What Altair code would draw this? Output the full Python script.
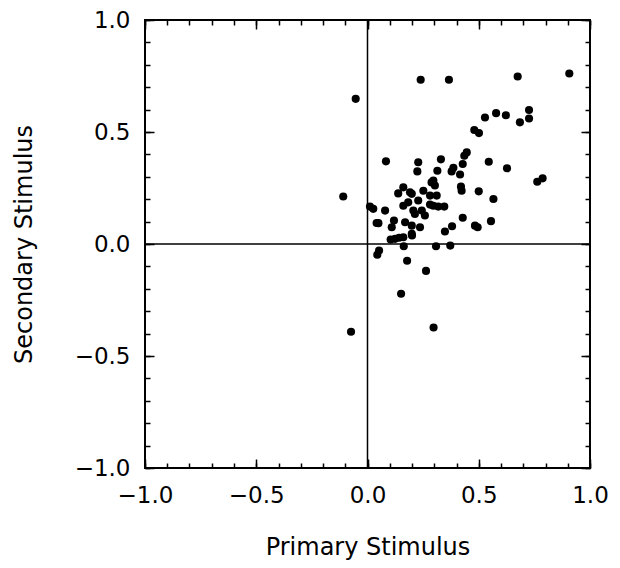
import altair as alt
import pandas as pd

# Data
primary = [-0.053, -0.109, -0.074, 0.297, 0.151, 0.263, 0.178, 0.052, 0.044, 0.163,
           0.308, 0.372, 0.104, 0.142, 0.200, 0.348, 0.239, 0.366, 0.675, 0.907,
           0.528, 0.578, 0.622, 0.685, 0.726, 0.726, 0.480, 0.501, 0.545, 0.627,
           0.763, 0.787, 0.500, 0.566, 0.555, 0.483, 0.495, 0.428, 0.380, 0.446,
           0.435, 0.428, 0.386, 0.378, 0.416, 0.420, 0.423, 0.330, 0.314, 0.296,
           0.303, 0.311, 0.281, 0.318, 0.345, 0.083, 0.228, 0.224, 0.161, 0.138,
           0.199, 0.251, 0.288, 0.011, 0.026, 0.079, 0.041, 0.119, 0.109, 0.161,
           0.183, 0.228, 0.206, 0.244, 0.169, 0.199, 0.236, 0.199, 0.124, 0.161,
           0.296, 0.281, 0.191, 0.213, 0.258, 0.049]
secondary = [0.648, 0.212, -0.392, -0.373, -0.222, -0.120, -0.075, -0.029, -0.048, -0.010,
             -0.010, -0.007, 0.020, 0.028, 0.038, 0.056, 0.733, 0.733, 0.748, 0.761,
             0.565, 0.584, 0.575, 0.543, 0.598, 0.560, 0.509, 0.495, 0.367, 0.338,
             0.278, 0.293, 0.235, 0.201, 0.102, 0.082, 0.075, 0.117, 0.079, 0.409,
             0.394, 0.357, 0.340, 0.324, 0.310, 0.256, 0.238, 0.378, 0.327, 0.283,
             0.261, 0.216, 0.176, 0.167, 0.167, 0.369, 0.365, 0.324, 0.253, 0.226,
             0.224, 0.238, 0.275, 0.167, 0.157, 0.149, 0.094, 0.105, 0.075, 0.171,
             0.186, 0.194, 0.149, 0.149, 0.097, 0.082, 0.075, 0.045, 0.023, 0.030,
             0.171, 0.216, 0.231, 0.134, 0.127, 0.093]

major_ticks = [-1.0, -0.5, 0.0, 0.5, 1.0]
minor_ticks = [round(-1 + 0.1 * i, 1) for i in range(21)]
zero_line = [0.0]

FONT = "DejaVu Sans"
W, H = 445, 448

df = pd.DataFrame({"primary": primary, "secondary": secondary})
zdf = pd.DataFrame({"v": zero_line})

sx = alt.Scale(domain=[-1, 1], nice=False, zero=False)
sy = alt.Scale(domain=[-1, 1], nice=False, zero=False)

base = alt.Chart(df)


def tick_axis(orient, values, size):
    return alt.Axis(orient=orient, values=values, tickSize=size, offset=-size,
                    labels=False, domain=False, grid=False, title=None,
                    tickColor="black", tickWidth=1.5)


def tick_layer(xo, yo, values, size):
    return base.mark_point(opacity=0).encode(
        x=alt.X("primary:Q", scale=sx, axis=tick_axis(xo, values, size)),
        y=alt.Y("secondary:Q", scale=sy, axis=tick_axis(yo, values, size)),
    )


hrule = alt.Chart(zdf).mark_rule(color="black", strokeWidth=1.5).encode(
    y=alt.Y("v:Q", scale=sy, axis=None))
vrule = alt.Chart(zdf).mark_rule(color="black", strokeWidth=1.5).encode(
    x=alt.X("v:Q", scale=sx, axis=None))

points = base.mark_circle(size=66, color="black", opacity=1).encode(
    x=alt.X("primary:Q", scale=sx, axis=alt.Axis(
        orient="bottom", values=major_ticks, format=".1f", ticks=False, tickSize=0,
        domain=False, grid=False, labelPadding=16, labelFontSize=23, labelFont=FONT,
        labelColor="black", labelFlush=False, labelOverlap=False,
        title="Primary Stimulus", titleFont=FONT, titleFontSize=24,
        titleFontWeight="normal", titleColor="black", titleX=W / 2, titleY=86,
        titleBaseline="alphabetic")),
    y=alt.Y("secondary:Q", scale=sy, axis=alt.Axis(
        orient="left", values=major_ticks, format=".1f", ticks=False, tickSize=0,
        domain=False, grid=False, labelPadding=15, labelFontSize=23, labelFont=FONT,
        labelColor="black", labelFlush=False, labelOverlap=False,
        title="Secondary Stimulus", titleFont=FONT, titleFontSize=24,
        titleFontWeight="normal", titleColor="black", titleX=-114, titleY=H / 2,
        titleAngle=270, titleBaseline="alphabetic")),
)

chart = alt.layer(
    hrule, vrule,
    tick_layer("bottom", "left", minor_ticks, 5),
    tick_layer("bottom", "left", major_ticks, 9),
    tick_layer("top", "right", minor_ticks, 5),
    tick_layer("top", "right", major_ticks, 9),
    points,
).resolve_axis(x="independent", y="independent").properties(
    width=W, height=H,
    autosize=alt.AutoSizeParams(type="none"),
    padding={"left": 137, "top": 12, "right": 20, "bottom": 92},
).configure_view(stroke="black", strokeWidth=2)

chart.save("out.html", embed_options={"renderer": "svg", "actions": False})
